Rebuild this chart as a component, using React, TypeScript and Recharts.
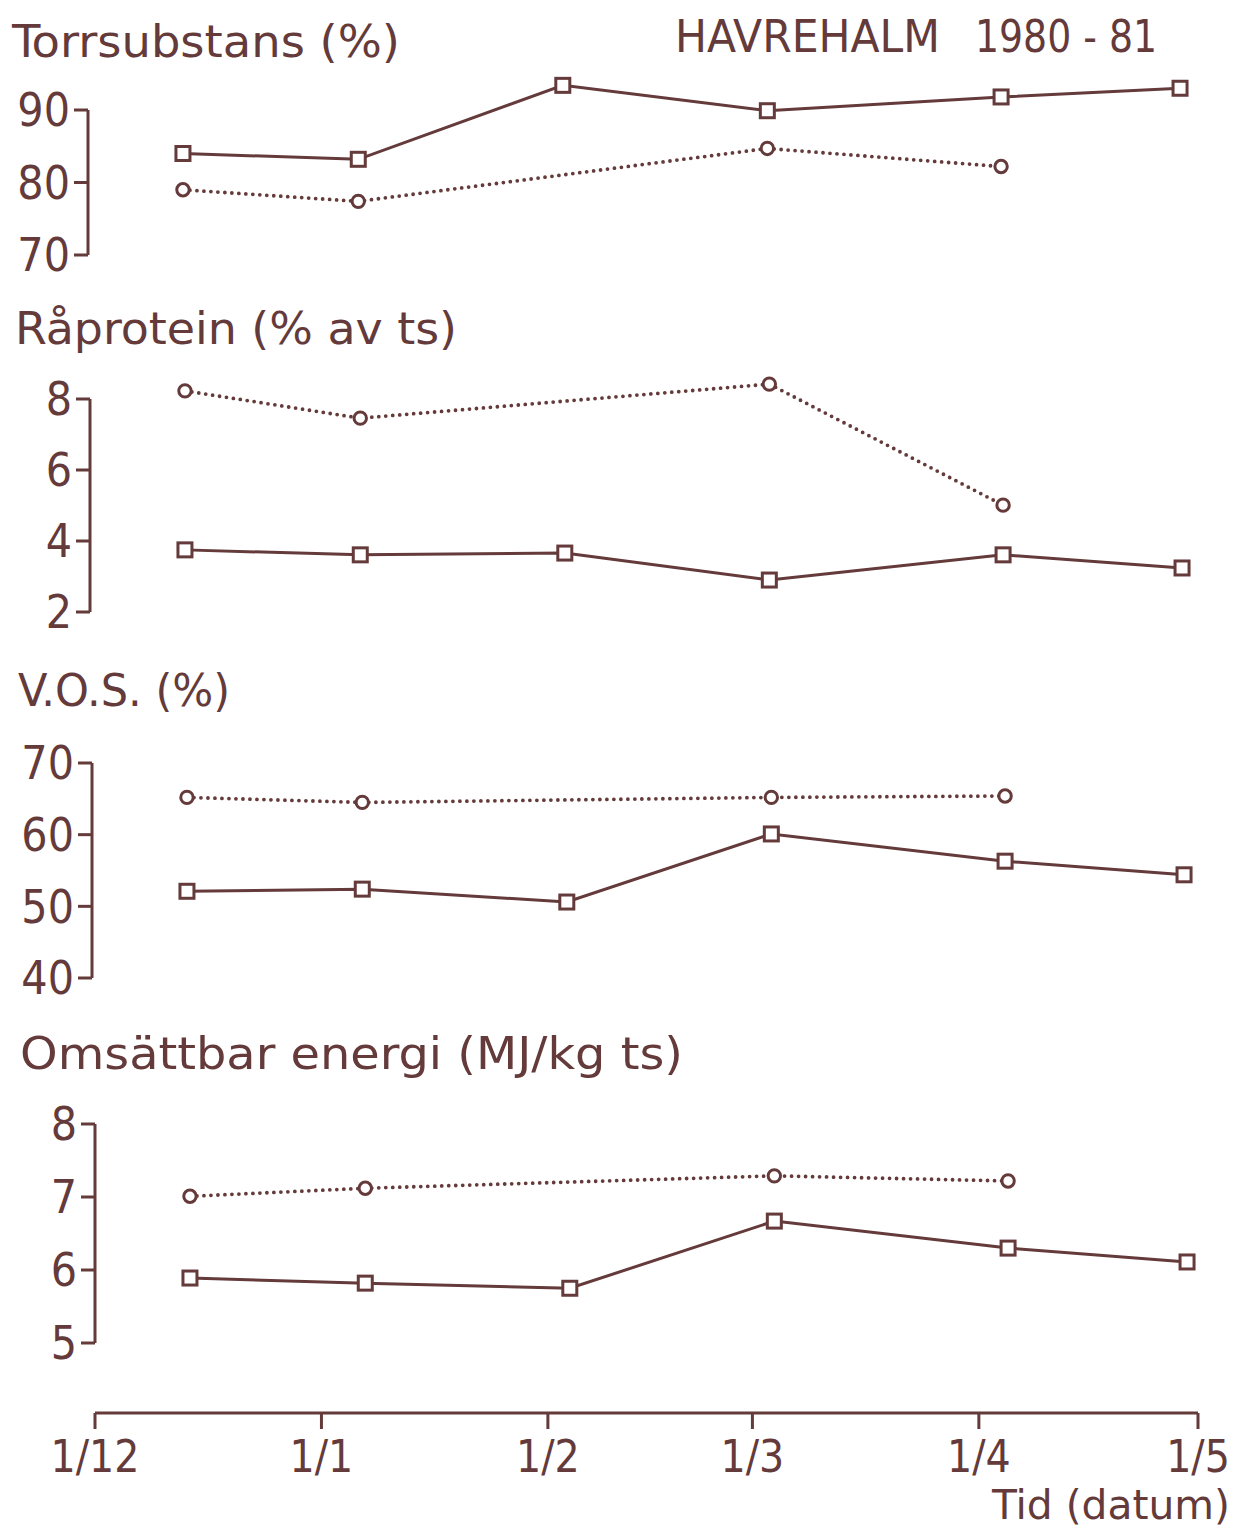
import { LineChart, Line, XAxis, YAxis, ReferenceLine } from "recharts";

// Havrehalm 1980-81: four stacked panels sharing one time axis.
const INK = "#643a3a";
const FONT = "'DejaVu Sans Condensed', 'Liberation Sans Narrow', 'DejaVu Sans', sans-serif";

// sample dates as days after 1 Dec 1980
const sampleDays = [13, 37, 65, 93, 125, 149.5];
const monthTicks = [0, 31, 62, 90, 121, 151];
const monthLabels = ["1/12", "1/1", "1/2", "1/3", "1/4", "1/5"];

const tsSquare = [84.0, 83.2, 93.4, 89.9, 91.8, 93.0];
const tsCircle = [79.0, 77.4, null, 84.7, 82.2, null];
const tsTicks = [70, 80, 90];

const rpSquare = [3.75, 3.61, 3.66, 2.9, 3.61, 3.24];
const rpCircle = [8.23, 7.46, null, 8.42, 5.01, null];
const rpTicks = [2, 4, 6, 8];

const vosSquare = [52.1, 52.4, 50.6, 60.1, 56.3, 54.4];
const vosCircle = [65.2, 64.5, null, 65.2, 65.4, null];
const vosTicks = [40, 50, 60, 70];

const oeSquare = [5.89, 5.82, 5.75, 6.67, 6.3, 6.11];
const oeCircle = [7.01, 7.12, null, 7.29, 7.22, null];
const oeTicks = [5, 6, 7, 8];

const Y_W = 88;
const PLOT_W = 1103;
const RIGHT = 40;

type Layout = { axisX: number; minPx: number; maxPx: number; top: number; bottom: number };

function SquareDot(props: any) {
  const { cx, cy, value, index } = props;
  if (value == null || cx == null || cy == null) return <g key={`s${index}`} />;
  return (
    <rect key={`s${index}`} x={cx - 7} y={cy - 7} width={14} height={14}
      fill="#fff" stroke={INK} strokeWidth={3} />
  );
}

function CircleDot(props: any) {
  const { cx, cy, value, index } = props;
  if (value == null || cx == null || cy == null) return <g key={`c${index}`} />;
  return <circle key={`c${index}`} cx={cx} cy={cy} r={6.2} fill="#fff" stroke={INK} strokeWidth={3} />;
}

function Panel({
  square,
  circle,
  ticks,
  layout,
  showX = false,
}: {
  square: number[];
  circle: (number | null)[];
  ticks: number[];
  layout: Layout;
  showX?: boolean;
}) {
  const tMin = ticks[0];
  const tMax = ticks[ticks.length - 1];
  const ppu = (layout.minPx - layout.maxPx) / (tMax - tMin);
  const lo = tMin - (layout.bottom - layout.minPx) / ppu;
  const hi = tMax + (layout.maxPx - layout.top) / ppu;
  const rows = sampleDays.map((day, i) => ({ day, sq: square[i], ci: circle[i] }));
  const xH = showX ? 110 : 0;
  return (
    <div style={{ position: "absolute", left: layout.axisX - Y_W, top: layout.top }}>
      <LineChart
        width={Y_W + PLOT_W + RIGHT}
        height={layout.bottom - layout.top + xH}
        data={rows}
        margin={{ top: 0, right: RIGHT, bottom: 0, left: 0 }}
      >
        <XAxis
          type="number"
          dataKey="day"
          domain={[0, 151]}
          allowDataOverflow
          ticks={monthTicks}
          interval={0}
          tickFormatter={(v: number) => monthLabels[monthTicks.indexOf(v)]}
          hide={!showX}
          height={xH}
          axisLine={{ stroke: INK, strokeWidth: 3 }}
          tickLine={{ stroke: INK, strokeWidth: 3 }}
          tickSize={16}
          tickMargin={12}
          tick={{ fill: INK, fontSize: 44, fontFamily: FONT }}
        />
        <YAxis
          type="number"
          domain={[lo, hi]}
          allowDataOverflow
          ticks={ticks}
          interval={0}
          width={Y_W}
          axisLine={false}
          tickLine={{ stroke: INK, strokeWidth: 3 }}
          tickSize={14}
          tickMargin={4}
          tick={{ fill: INK, fontSize: 46, fontFamily: FONT }}
        />
        <ReferenceLine
          segment={[{ x: 0, y: tMin }, { x: 0, y: tMax }]}
          stroke={INK}
          strokeWidth={3}
        />
        <Line
          dataKey="ci"
          stroke={INK}
          strokeWidth={3.8}
          strokeDasharray="0 7"
          strokeLinecap="round"
          connectNulls
          dot={CircleDot}
          activeDot={false}
          isAnimationActive={false}
        />
        <Line
          dataKey="sq"
          stroke={INK}
          strokeWidth={3}
          dot={SquareDot}
          activeDot={false}
          isAnimationActive={false}
        />
      </LineChart>
    </div>
  );
}

function Label({ x, y, len, children, anchor = "start", size = 44 }: any) {
  return (
    <text x={x} y={y} textLength={len} lengthAdjust="spacingAndGlyphs" textAnchor={anchor}
      fill={INK} fontSize={size} fontFamily={FONT}>
      {children}
    </text>
  );
}

export default function App() {
  return (
    <div style={{ position: "absolute", left: 0, top: 0, width: 1252, height: 1528, background: "#fff", overflow: "hidden" }}>
      <Panel square={tsSquare} circle={tsCircle} ticks={tsTicks}
        layout={{ axisX: 88, minPx: 255, maxPx: 110, top: 65, bottom: 285 }} />
      <Panel square={rpSquare} circle={rpCircle} ticks={rpTicks}
        layout={{ axisX: 90, minPx: 612, maxPx: 399, top: 362, bottom: 640 }} />
      <Panel square={vosSquare} circle={vosCircle} ticks={vosTicks}
        layout={{ axisX: 92, minPx: 978, maxPx: 763, top: 725, bottom: 1005 }} />
      <Panel square={oeSquare} circle={oeCircle} ticks={oeTicks} showX
        layout={{ axisX: 95, minPx: 1343, maxPx: 1124, top: 1088, bottom: 1413 }} />
      <svg width={1252} height={1528} style={{ position: "absolute", left: 0, top: 0, pointerEvents: "none" }}>
        <Label x={12} y={57} len={388}>Torrsubstans (%)</Label>
        <Label x={675} y={52} len={265}>HAVREHALM</Label>
        <Label x={975} y={52} len={182}>1980 - 81</Label>
        <Label x={15} y={344} len={442}>Råprotein (% av ts)</Label>
        <Label x={18} y={706} len={212}>V.O.S. (%)</Label>
        <Label x={20} y={1069} len={663}>Omsättbar energi (MJ/kg ts)</Label>
        <Label x={1230} y={1519} len={238} anchor="end" size={41}>Tid (datum)</Label>
      </svg>
    </div>
  );
}
